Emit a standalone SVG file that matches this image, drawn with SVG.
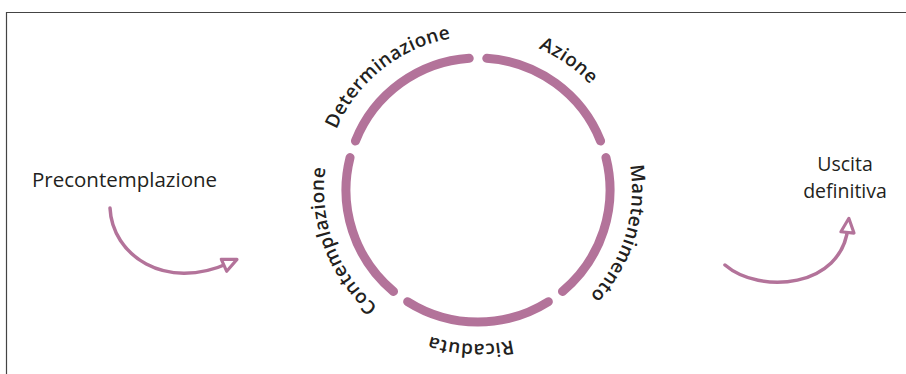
<svg xmlns="http://www.w3.org/2000/svg" width="906" height="374" viewBox="0 0 906 374">
  <style>
    .frame { fill: none; stroke: #444; stroke-width: 1.2; }
    .ring { fill: none; stroke: #b3739a; stroke-width: 9; stroke-linecap: round; }
    .flow { fill: none; stroke: #b3739a; stroke-width: 3.5; stroke-linecap: round; }
    .stage { font-family: "Open Sans", "Liberation Sans", sans-serif; font-size: 19px; font-weight: 600; fill: #231f20; letter-spacing: 0.4px; }
    .label { font-family: "Open Sans", "Liberation Sans", sans-serif; font-size: 20.5px; fill: #231f20; }
    .exit { font-size: 19.5px; }
  </style>
  <defs>
    <!-- clockwise baseline circle for the stage names, starting at 126 degrees -->
    <path id="stagePath" d="M387.48,314.59 A154,154 0 1,1 568.52,65.41 A154,154 0 1,1 387.48,314.59"/>
    <marker id="head" markerUnits="userSpaceOnUse" markerWidth="22" markerHeight="22" viewBox="-6 -8 20 16" refX="2" refY="0" orient="auto">
      <path d="M-3,-6 L10,0 L-3,6 Z" fill="#fff" stroke="#b3739a" stroke-width="2.8" stroke-linejoin="round"/>
    </marker>
  </defs>

  <path class="frame" d="M6.5,374 V12.5 H906"/>

  <g id="contemplazione">
    <path class="ring" d="M393.51,291.42 A132,132 0 0,1 350.04,157.62"/>
    <text class="stage"><textPath href="#stagePath" startOffset="90" text-anchor="middle">Contemplazione</textPath></text>
  </g>
  <g id="determinazione">
    <path class="ring" d="M355.44,140.98 A132,132 0 0,1 469.25,58.29"/>
    <text class="stage"><textPath href="#stagePath" startOffset="283.6" text-anchor="middle">Determinazione</textPath></text>
  </g>
  <g id="azione">
    <path class="ring" d="M486.75,58.29 A132,132 0 0,1 600.56,140.98"/>
    <text class="stage"><textPath href="#stagePath" startOffset="481" text-anchor="middle">Azione</textPath></text>
  </g>
  <g id="mantenimento">
    <path class="ring" d="M605.96,157.62 A132,132 0 0,1 562.49,291.42"/>
    <text class="stage"><textPath href="#stagePath" startOffset="674.6" text-anchor="middle">Mantenimento</textPath></text>
  </g>
  <g id="ricaduta">
    <path class="ring" d="M548.34,301.70 A132,132 0 0,1 407.66,301.70"/>
    <text class="stage"><textPath href="#stagePath" startOffset="877.6" text-anchor="middle">Ricaduta</textPath></text>
  </g>

  <g id="precontemplazione">
    <text class="label" x="32" y="187">Precontemplazione</text>
  </g>
  <g id="uscita">
    <text class="label exit" x="845" y="171" text-anchor="middle">Uscita</text>
    <text class="label exit" x="845" y="198" text-anchor="middle">definitiva</text>
  </g>

  <g id="connectors">
    <path class="flow" d="M110,208 C112,255 165,292 229,263" marker-end="url(#head)"/>
    <path class="flow" d="M725,265 C760,295 842,288 848,227" marker-end="url(#head)"/>
  </g>
</svg>
